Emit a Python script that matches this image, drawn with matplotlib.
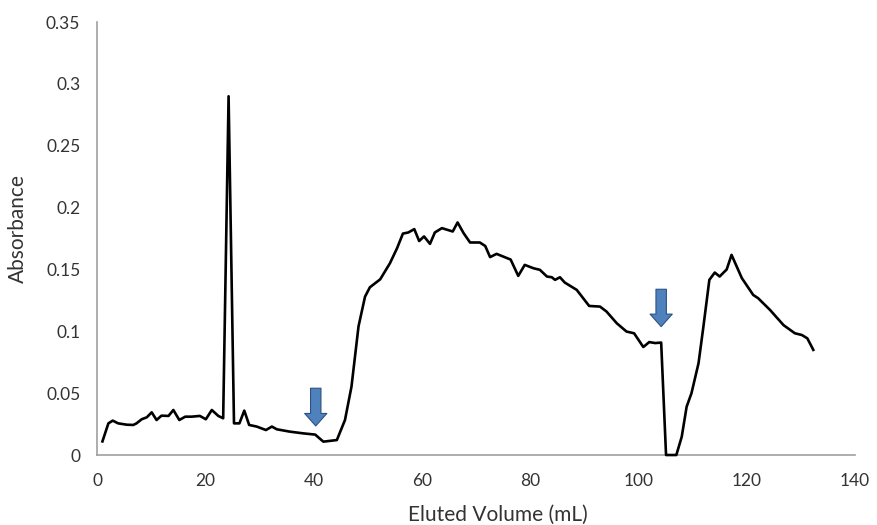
import matplotlib
matplotlib.use("Agg")
import matplotlib.pyplot as plt

# Data
volume = [1.0, 2.1, 2.9, 3.9, 5.5, 6.7, 7.3, 8.25, 9.2, 10.1, 11.0, 11.9, 13.2, 14.1,
          15.2, 16.3, 17.5, 19.0, 20.1, 21.2, 22.4, 23.3, 24.3, 25.3, 26.3, 27.2, 28.1,
          29.5, 31.2, 32.3, 33.2, 35.6, 38.1, 40.3, 41.8, 44.3, 45.8, 47.0, 48.3, 49.5,
          50.4, 52.3, 54.1, 55.4, 56.5, 57.5, 58.6, 59.5, 60.4, 61.5, 62.4, 63.7, 65.7,
          66.6, 67.7, 68.9, 70.7, 71.7, 72.6, 73.8, 76.4, 77.8, 79.0, 80.6, 81.8, 83.1,
          84.0, 84.6, 85.5, 86.4, 88.6, 90.9, 92.9, 94.1, 96.0, 97.8, 99.2, 100.9, 102.0,
          103.1, 104.2, 105.1, 107.0, 108.0, 108.9, 109.8, 111.1, 112.0, 113.1, 114.1,
          115.0, 116.3, 117.2, 119.1, 121.2, 122.1, 124.3, 126.8, 128.9, 130.2, 131.2, 132.3]
absorbance = [0.011, 0.0256, 0.0278, 0.0256, 0.0245, 0.0243, 0.0256, 0.0289, 0.0305, 0.0345,
              0.0283, 0.0318, 0.0316, 0.0364, 0.0283, 0.031, 0.031, 0.0316, 0.0289, 0.0364,
              0.0316, 0.0297, 0.290, 0.0256, 0.0256, 0.0359, 0.0243, 0.023, 0.0202, 0.023,
              0.0208, 0.0189, 0.0175, 0.0165, 0.0108, 0.0121, 0.0283, 0.0553, 0.104, 0.128,
              0.1356, 0.142, 0.155, 0.167, 0.179, 0.1799, 0.1826, 0.173, 0.1767, 0.1707,
              0.1799, 0.1834, 0.1807, 0.188, 0.1794, 0.1718, 0.1718, 0.169, 0.160, 0.1626,
              0.158, 0.1448, 0.1537, 0.151, 0.1497, 0.1443, 0.1437, 0.1416, 0.1437, 0.1394,
              0.1335, 0.1205, 0.120, 0.116, 0.1065, 0.0998, 0.0984, 0.0873, 0.0913, 0.0905,
              0.0909, 0.0, 0.0, 0.0148, 0.039, 0.050, 0.0742, 0.1038, 0.1416, 0.1475,
              0.1443, 0.150, 0.1618, 0.143, 0.1294, 0.1268, 0.1173, 0.105, 0.0984, 0.097,
              0.0943, 0.085]

arrow_x = [40.4, 104.2]
arrow_top = [0.054, 0.134]
arrow_tip = [0.0235, 0.1038]

x_ticks = [0, 20, 40, 60, 80, 100, 120, 140]
y_ticks = [0, 0.05, 0.1, 0.15, 0.2, 0.25, 0.3, 0.35]
y_tick_labels = ["0", "0.05", "0.1", "0.15", "0.2", "0.25", "0.3", "0.35"]

plt.rcParams['font.family'] = ['Lato', 'DejaVu Sans']

fig = plt.figure(figsize=(8.78, 5.25), dpi=100)
ax = fig.add_axes([0.1105, 0.1333, 0.8633, 0.8247])

ax.plot(volume, absorbance, color='black', linewidth=1.9, clip_on=False, zorder=3,
        solid_joinstyle='round')

for xa, yt, yp in zip(arrow_x, arrow_top, arrow_tip):
    ax.annotate('', xy=(xa, yp), xytext=(xa, yt),
                arrowprops=dict(arrowstyle='simple,head_width=1.6,head_length=0.9,tail_width=0.75',
                                mutation_scale=10, facecolor='#4f81bd', edgecolor='#2c5282',
                                linewidth=0.8, shrinkA=0, shrinkB=0), zorder=4)

ax.set_xlim(0, 140)
ax.set_ylim(0, 0.35)
ax.set_xticks(x_ticks)
ax.set_xticklabels([str(t) for t in x_ticks])
ax.set_yticks(y_ticks)
ax.set_yticklabels(y_tick_labels)
ax.tick_params(axis='both', length=0, labelsize=12.5, colors='#333333')
ax.tick_params(axis='y', pad=12)
ax.tick_params(axis='x', pad=13)

for s in ['top', 'right']:
    ax.spines[s].set_visible(False)
for s in ['left', 'bottom']:
    ax.spines[s].set_color('#a0a0a0')
    ax.spines[s].set_linewidth(1.2)

ax.set_xlabel('Eluted Volume (mL)', fontsize=15, color='#333333')
ax.set_ylabel('Absorbance', fontsize=15, color='#333333')
ax.xaxis.set_label_coords(0.5 * (397 + 598 - 2 * 97) / 758, -0.115)
ax.yaxis.set_label_coords(-0.091, 0.524)

fig.savefig('out.png', dpi=100, facecolor='white')
